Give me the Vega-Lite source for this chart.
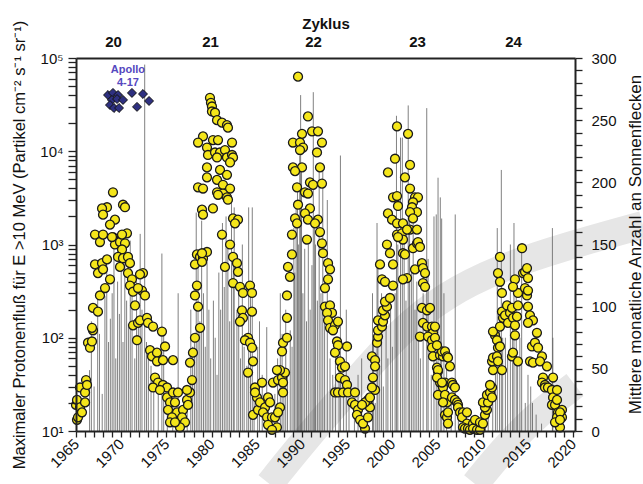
{
  "$schema": "https://vega.github.io/schema/vega-lite/v6.json",
  "width": 499,
  "height": 373,
  "autosize": {"type": "none"},
  "padding": {"left": 76, "top": 58, "right": 68, "bottom": 53},
  "background": "white",
  "config": {
    "font": "Liberation Sans",
    "view": {"stroke": null},
    "axis": {"grid": false, "zindex": 1, "labelColor": "#111", "titleColor": "#111", "domainColor": "#222", "tickColor": "#222", "labelOverlap": false, "labelFlush": false, "labelBound": false}
  },
  "datasets": {
    "band": [
      {"g": "A", "t": 1986.4, "v": -42.6},
      {"g": "A", "t": 1990.3, "v": -7.2},
      {"g": "A", "t": 1995.6, "v": 37},
      {"g": "A", "t": 2000.9, "v": 81.2},
      {"g": "A", "t": 2005.82, "v": 109.4},
      {"g": "A", "t": 2011.9, "v": 131.1},
      {"g": "A", "t": 2018.54, "v": 147.2},
      {"g": "A", "t": 2027.72, "v": 165.7},
      {"g": "B", "t": 2009.14, "v": -42.6},
      {"g": "B", "t": 2012.46, "v": -12.9},
      {"g": "B", "t": 2016.33, "v": 15.3},
      {"g": "B", "t": 2020.2, "v": 37}
    ],
    "flux": [
      {"t": 1966.5, "f": 45}, {"t": 1966.7, "f": 150}, {"t": 1967.0, "f": 30}, {"t": 1967.4, "f": 300}, {"t": 1967.6, "f": 110}, {"t": 1967.9, "f": 25},
      {"t": 1968.2, "f": 280}, {"t": 1968.4, "f": 700}, {"t": 1968.6, "f": 90}, {"t": 1968.8, "f": 160}, {"t": 1969.0, "f": 300}, {"t": 1969.2, "f": 1100},
      {"t": 1969.4, "f": 60}, {"t": 1969.6, "f": 400}, {"t": 1969.8, "f": 180}, {"t": 1970.0, "f": 550}, {"t": 1970.2, "f": 90}, {"t": 1970.4, "f": 1000},
      {"t": 1970.6, "f": 250}, {"t": 1970.8, "f": 140}, {"t": 1971.0, "f": 1100}, {"t": 1971.2, "f": 300}, {"t": 1971.5, "f": 60}, {"t": 1971.7, "f": 400},
      {"t": 1971.9, "f": 150}, {"t": 1972.1, "f": 1300}, {"t": 1972.3, "f": 200}, {"t": 1972.6, "f": 85000}, {"t": 1972.8, "f": 90}, {"t": 1973.0, "f": 60},
      {"t": 1973.3, "f": 50}, {"t": 1973.6, "f": 35}, {"t": 1974.1, "f": 40}, {"t": 1974.5, "f": 800}, {"t": 1974.7, "f": 120}, {"t": 1975.1, "f": 20},
      {"t": 1975.7, "f": 25}, {"t": 1976.3, "f": 300}, {"t": 1976.8, "f": 15}, {"t": 1977.3, "f": 25}, {"t": 1977.7, "f": 200}, {"t": 1977.9, "f": 80},
      {"t": 1978.1, "f": 100}, {"t": 1978.3, "f": 2200}, {"t": 1978.5, "f": 600}, {"t": 1978.7, "f": 150}, {"t": 1978.9, "f": 1800}, {"t": 1979.1, "f": 300},
      {"t": 1979.3, "f": 80}, {"t": 1979.5, "f": 900}, {"t": 1979.7, "f": 200}, {"t": 1979.9, "f": 60}, {"t": 1980.2, "f": 250}, {"t": 1980.4, "f": 100},
      {"t": 1980.6, "f": 40}, {"t": 1980.8, "f": 500}, {"t": 1981.0, "f": 200}, {"t": 1981.2, "f": 1700}, {"t": 1981.4, "f": 350}, {"t": 1981.6, "f": 2000},
      {"t": 1981.8, "f": 1000}, {"t": 1982.0, "f": 150}, {"t": 1982.2, "f": 3000}, {"t": 1982.4, "f": 800}, {"t": 1982.5, "f": 2500}, {"t": 1982.8, "f": 200},
      {"t": 1983.0, "f": 300}, {"t": 1983.2, "f": 60}, {"t": 1983.4, "f": 1000}, {"t": 1983.6, "f": 80}, {"t": 1983.9, "f": 50}, {"t": 1984.1, "f": 2500},
      {"t": 1984.3, "f": 300}, {"t": 1984.5, "f": 2500}, {"t": 1984.7, "f": 30}, {"t": 1985.1, "f": 80}, {"t": 1985.3, "f": 150}, {"t": 1985.6, "f": 40},
      {"t": 1986.1, "f": 130}, {"t": 1986.3, "f": 20}, {"t": 1986.6, "f": 15}, {"t": 1987.0, "f": 25}, {"t": 1987.3, "f": 60}, {"t": 1987.6, "f": 300},
      {"t": 1987.8, "f": 110}, {"t": 1988.0, "f": 30}, {"t": 1988.2, "f": 200}, {"t": 1988.4, "f": 40}, {"t": 1988.7, "f": 120}, {"t": 1988.9, "f": 80},
      {"t": 1989.1, "f": 1500}, {"t": 1989.2, "f": 500}, {"t": 1989.35, "f": 3000}, {"t": 1989.5, "f": 4000}, {"t": 1989.6, "f": 1000}, {"t": 1989.75, "f": 9000},
      {"t": 1989.85, "f": 40000}, {"t": 1989.95, "f": 7000}, {"t": 1990.1, "f": 300}, {"t": 1990.3, "f": 900}, {"t": 1990.5, "f": 150}, {"t": 1990.7, "f": 1000},
      {"t": 1990.9, "f": 200}, {"t": 1991.1, "f": 600}, {"t": 1991.25, "f": 43000}, {"t": 1991.4, "f": 2000}, {"t": 1991.5, "f": 1000}, {"t": 1991.7, "f": 250},
      {"t": 1991.9, "f": 6000}, {"t": 1992.1, "f": 300}, {"t": 1992.3, "f": 7000}, {"t": 1992.5, "f": 150}, {"t": 1992.8, "f": 3000}, {"t": 1993.1, "f": 60},
      {"t": 1993.4, "f": 40}, {"t": 1993.7, "f": 90}, {"t": 1994.1, "f": 60}, {"t": 1994.25, "f": 9000}, {"t": 1994.6, "f": 30}, {"t": 1994.9, "f": 200},
      {"t": 1995.2, "f": 20}, {"t": 1995.8, "f": 15}, {"t": 1996.2, "f": 40}, {"t": 1996.6, "f": 60}, {"t": 1997.2, "f": 15}, {"t": 1997.8, "f": 300},
      {"t": 1997.9, "f": 100}, {"t": 1998.1, "f": 20}, {"t": 1998.3, "f": 1700}, {"t": 1998.4, "f": 600}, {"t": 1998.6, "f": 50}, {"t": 1998.8, "f": 300},
      {"t": 1999.0, "f": 30}, {"t": 1999.3, "f": 150}, {"t": 1999.5, "f": 60}, {"t": 1999.8, "f": 200}, {"t": 2000.0, "f": 80}, {"t": 2000.3, "f": 300},
      {"t": 2000.45, "f": 24000}, {"t": 2000.6, "f": 1000}, {"t": 2000.9, "f": 14000}, {"t": 2001.1, "f": 14000}, {"t": 2001.3, "f": 1500}, {"t": 2001.5, "f": 250},
      {"t": 2001.75, "f": 31000}, {"t": 2001.9, "f": 3000}, {"t": 2002.1, "f": 500}, {"t": 2002.3, "f": 2500}, {"t": 2002.5, "f": 200}, {"t": 2002.7, "f": 400},
      {"t": 2002.9, "f": 100}, {"t": 2003.1, "f": 60}, {"t": 2003.4, "f": 300}, {"t": 2003.8, "f": 29000}, {"t": 2003.95, "f": 700}, {"t": 2004.3, "f": 40},
      {"t": 2004.6, "f": 2000}, {"t": 2004.85, "f": 2100}, {"t": 2005.05, "f": 5200}, {"t": 2005.3, "f": 3200}, {"t": 2005.45, "f": 1900}, {"t": 2005.7, "f": 300},
      {"t": 2006.0, "f": 50}, {"t": 2006.5, "f": 20}, {"t": 2006.95, "f": 2100}, {"t": 2007.3, "f": 15}, {"t": 2008.0, "f": 12}, {"t": 2010.3, "f": 20},
      {"t": 2010.6, "f": 14}, {"t": 2011.1, "f": 30}, {"t": 2011.4, "f": 80}, {"t": 2011.6, "f": 1500}, {"t": 2011.85, "f": 200}, {"t": 2012.05, "f": 6300},
      {"t": 2012.2, "f": 100}, {"t": 2012.5, "f": 100}, {"t": 2012.75, "f": 60}, {"t": 2013.05, "f": 1000}, {"t": 2013.3, "f": 160}, {"t": 2013.45, "f": 1700},
      {"t": 2013.7, "f": 300}, {"t": 2013.85, "f": 50}, {"t": 2014.1, "f": 100}, {"t": 2014.3, "f": 1000}, {"t": 2014.7, "f": 20}, {"t": 2015.0, "f": 40},
      {"t": 2015.3, "f": 30}, {"t": 2015.5, "f": 20}, {"t": 2015.9, "f": 15}, {"t": 2016.5, "f": 12}, {"t": 2017.7, "f": 1500}, {"t": 2017.75, "f": 100},
      {"t": 2018.2, "f": 12}
    ],
    "ssn": [
      {"t": 1965.0, "s": 21}, {"t": 1965.11, "s": 25}, {"t": 1965.11, "s": 9}, {"t": 1965.22, "s": 11}, {"t": 1965.44, "s": 35}, {"t": 1965.44, "s": 19},
      {"t": 1965.66, "s": 15}, {"t": 1966.0, "s": 31}, {"t": 1966.0, "s": 23}, {"t": 1966.11, "s": 41}, {"t": 1966.22, "s": 37}, {"t": 1966.33, "s": 71},
      {"t": 1966.55, "s": 67}, {"t": 1966.77, "s": 72}, {"t": 1966.88, "s": 81}, {"t": 1966.77, "s": 83}, {"t": 1966.88, "s": 99}, {"t": 1967.43, "s": 96},
      {"t": 1967.1, "s": 134}, {"t": 1967.43, "s": 127}, {"t": 1967.88, "s": 135}, {"t": 1967.99, "s": 130}, {"t": 1967.65, "s": 109}, {"t": 1968.21, "s": 115},
      {"t": 1968.76, "s": 122}, {"t": 1968.43, "s": 138}, {"t": 1967.1, "s": 158}, {"t": 1967.65, "s": 152}, {"t": 1967.99, "s": 158}, {"t": 1969.09, "s": 156},
      {"t": 1969.31, "s": 150}, {"t": 1969.87, "s": 152}, {"t": 1970.64, "s": 159}, {"t": 1970.42, "s": 151}, {"t": 1970.09, "s": 146}, {"t": 1969.65, "s": 140},
      {"t": 1970.2, "s": 139}, {"t": 1970.75, "s": 140}, {"t": 1969.87, "s": 132}, {"t": 1970.97, "s": 135}, {"t": 1970.75, "s": 127}, {"t": 1971.19, "s": 122},
      {"t": 1970.97, "s": 117}, {"t": 1971.31, "s": 112}, {"t": 1971.53, "s": 101}, {"t": 1971.31, "s": 85}, {"t": 1971.86, "s": 87}, {"t": 1972.08, "s": 89},
      {"t": 1972.85, "s": 91}, {"t": 1972.96, "s": 87}, {"t": 1972.41, "s": 127}, {"t": 1972.08, "s": 126}, {"t": 1972.3, "s": 113}, {"t": 1972.63, "s": 109},
      {"t": 1971.86, "s": 115}, {"t": 1971.75, "s": 73}, {"t": 1973.52, "s": 84}, {"t": 1974.51, "s": 80}, {"t": 1973.19, "s": 65}, {"t": 1973.41, "s": 60},
      {"t": 1973.96, "s": 63}, {"t": 1973.96, "s": 56}, {"t": 1974.85, "s": 68}, {"t": 1974.62, "s": 57}, {"t": 1975.73, "s": 57}, {"t": 1973.74, "s": 43},
      {"t": 1974.07, "s": 39}, {"t": 1973.52, "s": 35}, {"t": 1974.62, "s": 37}, {"t": 1975.07, "s": 35}, {"t": 1974.29, "s": 33}, {"t": 1975.07, "s": 27},
      {"t": 1975.73, "s": 31}, {"t": 1975.4, "s": 23}, {"t": 1975.95, "s": 23}, {"t": 1976.28, "s": 31}, {"t": 1975.18, "s": 17}, {"t": 1976.17, "s": 15},
      {"t": 1976.84, "s": 17}, {"t": 1975.62, "s": 11}, {"t": 1975.4, "s": 7}, {"t": 1976.73, "s": 11}, {"t": 1977.28, "s": 25}, {"t": 1977.61, "s": 31},
      {"t": 1977.28, "s": 33}, {"t": 1977.06, "s": 7}, {"t": 1976.5, "s": 3}, {"t": 1977.39, "s": 21}, {"t": 1975.95, "s": 7}, {"t": 1969.09, "s": 192},
      {"t": 1968.43, "s": 180}, {"t": 1967.88, "s": 179}, {"t": 1967.99, "s": 174}, {"t": 1969.31, "s": 170}, {"t": 1968.76, "s": 166}, {"t": 1970.2, "s": 182},
      {"t": 1970.42, "s": 180}, {"t": 1968.98, "s": 156}, {"t": 1970.09, "s": 158},
      {"t": 1977.83, "s": 41}, {"t": 1977.61, "s": 55}, {"t": 1977.94, "s": 63}, {"t": 1978.16, "s": 75}, {"t": 1978.72, "s": 83}, {"t": 1978.5, "s": 100},
      {"t": 1978.16, "s": 109}, {"t": 1978.38, "s": 117}, {"t": 1978.16, "s": 134}, {"t": 1978.38, "s": 142}, {"t": 1978.72, "s": 140}, {"t": 1979.05, "s": 139},
      {"t": 1978.94, "s": 136}, {"t": 1979.49, "s": 144}, {"t": 1978.94, "s": 143}, {"t": 1979.82, "s": 268}, {"t": 1979.93, "s": 264}, {"t": 1980.04, "s": 261},
      {"t": 1980.04, "s": 257}, {"t": 1980.38, "s": 256}, {"t": 1980.6, "s": 250}, {"t": 1981.15, "s": 248}, {"t": 1981.7, "s": 246}, {"t": 1981.81, "s": 244},
      {"t": 1979.05, "s": 237}, {"t": 1978.5, "s": 232}, {"t": 1979.49, "s": 228}, {"t": 1980.15, "s": 234}, {"t": 1980.71, "s": 234}, {"t": 1982.26, "s": 232},
      {"t": 1979.6, "s": 222}, {"t": 1980.38, "s": 224}, {"t": 1980.93, "s": 224}, {"t": 1981.48, "s": 226}, {"t": 1980.6, "s": 220}, {"t": 1981.7, "s": 220},
      {"t": 1982.26, "s": 222}, {"t": 1982.37, "s": 220}, {"t": 1982.04, "s": 216}, {"t": 1979.49, "s": 212}, {"t": 1980.93, "s": 210}, {"t": 1981.7, "s": 206},
      {"t": 1979.49, "s": 204}, {"t": 1980.6, "s": 202}, {"t": 1978.5, "s": 196}, {"t": 1979.05, "s": 195}, {"t": 1981.26, "s": 198}, {"t": 1982.04, "s": 195},
      {"t": 1980.6, "s": 192}, {"t": 1981.26, "s": 191}, {"t": 1980.71, "s": 190}, {"t": 1981.7, "s": 188}, {"t": 1981.81, "s": 186}, {"t": 1978.94, "s": 178},
      {"t": 1979.05, "s": 174}, {"t": 1980.15, "s": 179}, {"t": 1982.37, "s": 171}, {"t": 1982.92, "s": 170}, {"t": 1982.59, "s": 167}, {"t": 1981.15, "s": 158},
      {"t": 1981.48, "s": 132}, {"t": 1982.04, "s": 150}, {"t": 1982.37, "s": 140}, {"t": 1982.81, "s": 135}, {"t": 1982.92, "s": 128}, {"t": 1982.37, "s": 119},
      {"t": 1983.14, "s": 116}, {"t": 1983.47, "s": 111}, {"t": 1983.36, "s": 97}, {"t": 1983.47, "s": 91}, {"t": 1983.14, "s": 88}, {"t": 1984.47, "s": 96},
      {"t": 1984.25, "s": 117}, {"t": 1984.47, "s": 111}, {"t": 1984.03, "s": 75}, {"t": 1983.69, "s": 73}, {"t": 1984.25, "s": 71}, {"t": 1984.58, "s": 56},
      {"t": 1984.03, "s": 47}, {"t": 1984.8, "s": 35}, {"t": 1984.58, "s": 13}, {"t": 1985.02, "s": 27}, {"t": 1985.13, "s": 17}, {"t": 1984.47, "s": 67},
      {"t": 1984.8, "s": 31}, {"t": 1985.58, "s": 39}, {"t": 1985.35, "s": 23}, {"t": 1986.24, "s": 27}, {"t": 1985.91, "s": 19}, {"t": 1986.46, "s": 23},
      {"t": 1985.69, "s": 15}, {"t": 1986.13, "s": 11}, {"t": 1986.68, "s": 11}, {"t": 1986.24, "s": 5}, {"t": 1987.01, "s": 11}, {"t": 1987.23, "s": 3},
      {"t": 1986.68, "s": 1}, {"t": 1987.57, "s": 19}, {"t": 1987.35, "s": 15},
      {"t": 1986.79, "s": 39}, {"t": 1987.35, "s": 41}, {"t": 1987.79, "s": 43}, {"t": 1987.9, "s": 39}, {"t": 1988.12, "s": 47}, {"t": 1987.57, "s": 49},
      {"t": 1987.23, "s": 49}, {"t": 1987.9, "s": 31}, {"t": 1987.79, "s": 64}, {"t": 1987.9, "s": 71}, {"t": 1988.34, "s": 75}, {"t": 1988.34, "s": 91},
      {"t": 1988.34, "s": 109}, {"t": 1988.67, "s": 124}, {"t": 1988.45, "s": 132}, {"t": 1988.89, "s": 142}, {"t": 1988.89, "s": 158}, {"t": 1990.55, "s": 154},
      {"t": 1989.56, "s": 285}, {"t": 1990.66, "s": 253}, {"t": 1990.0, "s": 239}, {"t": 1991.11, "s": 241}, {"t": 1991.77, "s": 241}, {"t": 1989.0, "s": 232},
      {"t": 1989.78, "s": 232}, {"t": 1990.11, "s": 228}, {"t": 1989.78, "s": 226}, {"t": 1992.21, "s": 232}, {"t": 1991.66, "s": 224}, {"t": 1991.99, "s": 212},
      {"t": 1989.0, "s": 212}, {"t": 1990.0, "s": 212}, {"t": 1989.23, "s": 209}, {"t": 1989.45, "s": 196}, {"t": 1990.88, "s": 200}, {"t": 1991.22, "s": 198},
      {"t": 1992.21, "s": 199}, {"t": 1990.33, "s": 192}, {"t": 1990.66, "s": 191}, {"t": 1989.56, "s": 182}, {"t": 1990.88, "s": 179}, {"t": 1990.33, "s": 175},
      {"t": 1989.23, "s": 171}, {"t": 1989.45, "s": 167}, {"t": 1990.66, "s": 170}, {"t": 1991.77, "s": 170}, {"t": 1991.44, "s": 167}, {"t": 1991.99, "s": 160},
      {"t": 1992.21, "s": 151}, {"t": 1992.32, "s": 143}, {"t": 1992.88, "s": 135}, {"t": 1993.1, "s": 130}, {"t": 1992.88, "s": 122}, {"t": 1992.54, "s": 115},
      {"t": 1992.54, "s": 100}, {"t": 1993.1, "s": 101}, {"t": 1993.32, "s": 95}, {"t": 1992.77, "s": 95}, {"t": 1992.88, "s": 89}, {"t": 1993.1, "s": 83},
      {"t": 1993.65, "s": 85}, {"t": 1993.98, "s": 88}, {"t": 1993.43, "s": 81}, {"t": 1993.87, "s": 72}, {"t": 1993.98, "s": 69}, {"t": 1994.98, "s": 68},
      {"t": 1993.65, "s": 63}, {"t": 1994.2, "s": 56}, {"t": 1994.42, "s": 51}, {"t": 1994.76, "s": 52}, {"t": 1994.2, "s": 43}, {"t": 1994.76, "s": 41},
      {"t": 1994.98, "s": 37}, {"t": 1993.65, "s": 31}, {"t": 1993.98, "s": 31}, {"t": 1994.54, "s": 31}, {"t": 1995.09, "s": 31}, {"t": 1995.86, "s": 31},
      {"t": 1995.53, "s": 23}, {"t": 1995.86, "s": 21}, {"t": 1996.19, "s": 17}, {"t": 1996.08, "s": 13}, {"t": 1996.42, "s": 9}, {"t": 1996.97, "s": 2},
      {"t": 1996.75, "s": 6}, {"t": 1997.3, "s": 11}, {"t": 1997.52, "s": 19}, {"t": 1997.3, "s": 25}, {"t": 1996.97, "s": 23}, {"t": 1996.64, "s": 21},
      {"t": 1997.52, "s": 27},
      {"t": 1997.74, "s": 60}, {"t": 1998.08, "s": 57}, {"t": 1998.08, "s": 52}, {"t": 1997.85, "s": 43}, {"t": 1998.08, "s": 33}, {"t": 1997.74, "s": 35},
      {"t": 1998.3, "s": 71}, {"t": 1998.41, "s": 76}, {"t": 1998.41, "s": 81}, {"t": 1998.85, "s": 84}, {"t": 1998.41, "s": 89}, {"t": 1998.96, "s": 88},
      {"t": 1999.18, "s": 93}, {"t": 1998.96, "s": 97}, {"t": 1999.4, "s": 100}, {"t": 1999.18, "s": 104}, {"t": 1999.73, "s": 107}, {"t": 1998.85, "s": 122},
      {"t": 1998.63, "s": 134}, {"t": 1999.18, "s": 120}, {"t": 2000.07, "s": 117}, {"t": 2000.07, "s": 134}, {"t": 1999.4, "s": 150}, {"t": 1999.73, "s": 143},
      {"t": 2000.51, "s": 158}, {"t": 2001.06, "s": 159}, {"t": 2001.17, "s": 154}, {"t": 2001.17, "s": 143}, {"t": 2001.39, "s": 142}, {"t": 2001.62, "s": 123},
      {"t": 2001.17, "s": 122}, {"t": 2001.95, "s": 162}, {"t": 2002.28, "s": 147}, {"t": 2002.72, "s": 151}, {"t": 2002.83, "s": 152}, {"t": 2003.05, "s": 148},
      {"t": 2002.5, "s": 130}, {"t": 2003.27, "s": 135}, {"t": 2003.38, "s": 131}, {"t": 2003.61, "s": 127}, {"t": 2003.38, "s": 119}, {"t": 2003.61, "s": 116},
      {"t": 2003.27, "s": 99}, {"t": 2003.83, "s": 97}, {"t": 2003.38, "s": 87}, {"t": 2003.05, "s": 76}, {"t": 2003.83, "s": 84}, {"t": 2004.38, "s": 84},
      {"t": 2004.49, "s": 79}, {"t": 2003.94, "s": 76}, {"t": 2004.38, "s": 73}, {"t": 2004.71, "s": 75}, {"t": 2004.38, "s": 67}, {"t": 2004.49, "s": 60},
      {"t": 2005.27, "s": 61}, {"t": 2005.6, "s": 60}, {"t": 2005.49, "s": 64}, {"t": 2004.93, "s": 51}, {"t": 2005.04, "s": 48}, {"t": 2005.27, "s": 39},
      {"t": 2005.82, "s": 39}, {"t": 2005.04, "s": 29}, {"t": 2005.6, "s": 35}, {"t": 2006.04, "s": 23}, {"t": 2005.82, "s": 13}, {"t": 2006.04, "s": 11},
      {"t": 2000.51, "s": 245}, {"t": 2001.73, "s": 239}, {"t": 2000.29, "s": 219}, {"t": 1999.51, "s": 208}, {"t": 2001.95, "s": 214}, {"t": 2001.39, "s": 204},
      {"t": 2001.95, "s": 195}, {"t": 2000.07, "s": 188}, {"t": 2000.51, "s": 189}, {"t": 2002.5, "s": 188}, {"t": 2002.83, "s": 188}, {"t": 2002.28, "s": 184},
      {"t": 2002.17, "s": 180}, {"t": 2000.62, "s": 181}, {"t": 2002.72, "s": 176}, {"t": 2001.95, "s": 176}, {"t": 1999.51, "s": 175}, {"t": 1999.96, "s": 170},
      {"t": 2000.51, "s": 167}, {"t": 2001.17, "s": 167}, {"t": 2002.28, "s": 171}, {"t": 2001.62, "s": 162}, {"t": 2002.72, "s": 162}, {"t": 2000.62, "s": 156},
      {"t": 2004.16, "s": 99}, {"t": 2004.71, "s": 84}, {"t": 2004.93, "s": 69}, {"t": 2005.04, "s": 49}, {"t": 2004.93, "s": 43}, {"t": 2005.49, "s": 39},
      {"t": 2005.82, "s": 29}, {"t": 2005.6, "s": 23}, {"t": 2006.15, "s": 15}, {"t": 2006.15, "s": 6}, {"t": 2005.82, "s": 64}, {"t": 2006.04, "s": 60},
      {"t": 2006.15, "s": 59}, {"t": 2006.37, "s": 52}, {"t": 2006.59, "s": 39}, {"t": 2006.7, "s": 37}, {"t": 2006.92, "s": 35}, {"t": 2006.59, "s": 27},
      {"t": 2006.92, "s": 25}, {"t": 2007.15, "s": 23}, {"t": 2007.26, "s": 21}, {"t": 2007.26, "s": 19}, {"t": 2007.48, "s": 15}, {"t": 2007.81, "s": 15},
      {"t": 2007.7, "s": 11}, {"t": 2008.25, "s": 15}, {"t": 2008.25, "s": 6}, {"t": 2007.81, "s": 3}, {"t": 2008.03, "s": 2}, {"t": 2008.36, "s": 2},
      {"t": 2008.58, "s": 1}, {"t": 2008.92, "s": 6}, {"t": 2008.92, "s": 2}, {"t": 2009.36, "s": 1}, {"t": 2009.69, "s": 1}, {"t": 2009.14, "s": 9},
      {"t": 2009.69, "s": 7}, {"t": 2010.02, "s": 6},
      {"t": 2010.24, "s": 13}, {"t": 2010.46, "s": 17}, {"t": 2010.24, "s": 19}, {"t": 2010.02, "s": 23}, {"t": 2010.58, "s": 23}, {"t": 2010.46, "s": 29},
      {"t": 2010.8, "s": 31}, {"t": 2011.02, "s": 35}, {"t": 2011.02, "s": 27}, {"t": 2010.8, "s": 37}, {"t": 2011.13, "s": 49}, {"t": 2011.02, "s": 56},
      {"t": 2011.13, "s": 59}, {"t": 2011.35, "s": 77}, {"t": 2011.13, "s": 80}, {"t": 2011.57, "s": 73}, {"t": 2011.68, "s": 67}, {"t": 2011.57, "s": 60},
      {"t": 2011.68, "s": 56}, {"t": 2011.9, "s": 68}, {"t": 2012.12, "s": 49}, {"t": 2011.9, "s": 84}, {"t": 2011.68, "s": 127}, {"t": 2011.9, "s": 140},
      {"t": 2011.9, "s": 120}, {"t": 2012.12, "s": 111}, {"t": 2012.12, "s": 96}, {"t": 2012.23, "s": 91}, {"t": 2012.46, "s": 93}, {"t": 2012.68, "s": 101},
      {"t": 2012.79, "s": 87}, {"t": 2013.01, "s": 95}, {"t": 2013.23, "s": 99}, {"t": 2013.34, "s": 91}, {"t": 2013.56, "s": 85}, {"t": 2013.56, "s": 77},
      {"t": 2013.23, "s": 60}, {"t": 2013.34, "s": 63}, {"t": 2013.89, "s": 56}, {"t": 2013.78, "s": 92}, {"t": 2013.89, "s": 101}, {"t": 2013.89, "s": 111},
      {"t": 2013.56, "s": 122}, {"t": 2013.34, "s": 116}, {"t": 2014.34, "s": 147}, {"t": 2014.45, "s": 127}, {"t": 2014.67, "s": 128}, {"t": 2014.89, "s": 131},
      {"t": 2015.0, "s": 123}, {"t": 2014.67, "s": 115}, {"t": 2014.89, "s": 109}, {"t": 2015.0, "s": 100}, {"t": 2015.22, "s": 93}, {"t": 2015.0, "s": 113},
      {"t": 2015.22, "s": 56}, {"t": 2015.55, "s": 55}, {"t": 2015.44, "s": 68}, {"t": 2015.77, "s": 71}, {"t": 2015.99, "s": 79}, {"t": 2015.55, "s": 89},
      {"t": 2015.0, "s": 87}, {"t": 2016.11, "s": 67}, {"t": 2016.55, "s": 60}, {"t": 2016.33, "s": 56}, {"t": 2016.66, "s": 43}, {"t": 2016.55, "s": 39},
      {"t": 2016.88, "s": 37}, {"t": 2016.88, "s": 35}, {"t": 2017.21, "s": 35}, {"t": 2017.1, "s": 52}, {"t": 2017.65, "s": 33}, {"t": 2017.77, "s": 27},
      {"t": 2017.65, "s": 21}, {"t": 2017.99, "s": 21}, {"t": 2018.21, "s": 25}, {"t": 2018.21, "s": 33}, {"t": 2018.32, "s": 15}, {"t": 2018.54, "s": 11},
      {"t": 2018.21, "s": 11}, {"t": 2018.76, "s": 11}, {"t": 2018.32, "s": 7}, {"t": 2018.54, "s": 3}, {"t": 2018.76, "s": 17}, {"t": 2017.77, "s": 43},
      {"t": 2018.54, "s": 15}, {"t": 2017.99, "s": 7}, {"t": 2018.54, "s": 9}
    ],
    "apollo": [
      {"t": 1968.54, "f": 40100}, {"t": 1969.09, "f": 42200}, {"t": 1969.65, "f": 40100}, {"t": 1968.98, "f": 35500}, {"t": 1969.54, "f": 36300},
      {"t": 1970.2, "f": 35500}, {"t": 1968.76, "f": 31300}, {"t": 1969.2, "f": 29100}, {"t": 1969.76, "f": 29100}, {"t": 1971.19, "f": 42200},
      {"t": 1971.75, "f": 29900}, {"t": 1972.41, "f": 41100}, {"t": 1973.08, "f": 34600}
    ],
    "label": [{"t": 1970.75, "f": 86000, "txt": "Apollo\n4-17"}]
  },
  "resolve": {"scale": {"y": "independent"}, "axis": {"x": "independent", "y": "independent"}},
  "layer": [
    {
      "data": {"name": "band"},
      "mark": {"type": "line", "clip": false, "strokeWidth": 28, "color": "#e6e6e6", "interpolate": "basis", "strokeCap": "butt"},
      "encoding": {
        "x": {"field": "t", "type": "quantitative", "scale": {"domain": [1965, 2020.2], "nice": false, "zero": false},
          "axis": {"orient": "top", "zindex": 1, "values": [1969.09, 1979.82, 1991.22, 2002.72, 2013.34],
            "labelExpr": "datum.value < 1975 ? '20' : datum.value < 1985 ? '21' : datum.value < 1997 ? '22' : datum.value < 2008 ? '23' : '24'",
            "ticks": false, "domainWidth": 2, "labelFontSize": 15, "labelFontWeight": "bold", "labelPadding": 9,
            "title": "Zyklus", "titleFontSize": 15, "titleFontWeight": "bold", "titlePadding": 3}},
        "y": {"field": "v", "type": "quantitative", "scale": {"domain": [0, 300], "nice": false, "zero": false}, "axis": null},
        "detail": {"field": "g"}
      }
    },
    {
      "data": {"name": "flux"},
      "mark": {"type": "rule", "color": "#555", "strokeWidth": 1, "opacity": 0.75},
      "encoding": {
        "x": {"field": "t", "type": "quantitative", "scale": {"domain": [1965, 2020.2], "nice": false, "zero": false},
          "axis": {"orient": "bottom", "zindex": 1, "values": [1965,1966,1967,1968,1969,1970,1971,1972,1973,1974,1975,1976,1977,1978,1979,1980,1981,1982,1983,1984,1985,1986,1987,1988,1989,1990,1991,1992,1993,1994,1995,1996,1997,1998,1999,2000,2001,2002,2003,2004,2005,2006,2007,2008,2009,2010,2011,2012,2013,2014,2015,2016,2017,2018,2019,2020],
            "labelExpr": "datum.value % 5 == 0 ? '' + datum.value : ''", "labelAngle": -45, "labelAlign": "right", "labelBaseline": "middle",
            "tickSize": 6, "tickWidth": 1.3, "domainWidth": 2, "labelFontSize": 15, "labelPadding": 4, "title": null}},
        "y": {"field": "f", "type": "quantitative", "scale": {"type": "log", "domain": [10, 100000], "nice": false},
          "axis": {"orient": "left", "zindex": 1, "values": [10,20,30,40,50,60,70,80,90,100,200,300,400,500,600,700,800,900,1000,2000,3000,4000,5000,6000,7000,8000,9000,10000,20000,30000,40000,50000,60000,70000,80000,90000,100000],
            "labelExpr": "datum.value == 10 ? '10¹' : datum.value == 100 ? '10²' : datum.value == 1000 ? '10³' : datum.value == 10000 ? '10⁴' : datum.value == 100000 ? '10⁵' : ''",
            "tickSize": 8, "tickWidth": 1.3, "domainWidth": 2, "labelFontSize": 15, "labelPadding": 5,
            "title": "Maximaler Protonenfluß für E >10 MeV (Partikel cm⁻² s⁻¹ sr⁻¹)", "titleFontSize": 16.5, "titleFontWeight": "normal", "titlePadding": 12}},
        "y2": {"datum": 10}
      }
    },
    {
      "data": {"name": "ssn"},
      "mark": {"type": "point", "shape": "circle", "filled": true, "fill": "#f5e61a", "stroke": "#1a1a1a", "strokeWidth": 1.3, "size": 80, "opacity": 1},
      "encoding": {
        "x": {"field": "t", "type": "quantitative", "scale": {"domain": [1965, 2020.2], "nice": false, "zero": false}, "axis": null},
        "y": {"field": "s", "type": "quantitative", "scale": {"domain": [0, 300], "nice": false, "zero": false},
          "axis": {"orient": "right", "zindex": 1, "values": [0,10,20,30,40,50,60,70,80,90,100,110,120,130,140,150,160,170,180,190,200,210,220,230,240,250,260,270,280,290,300],
            "labelExpr": "datum.value % 50 == 0 ? '' + datum.value : ''", "tickSize": 7, "tickWidth": 1.3, "domainWidth": 2, "labelFontSize": 15, "labelPadding": 9,
            "title": "Mittlere monatliche Anzahl an Sonnenflecken", "titleFontSize": 17, "titleFontWeight": "normal", "titleAngle": -90,
            "titleX": 65, "titleY": 186, "titleAlign": "center", "titleBaseline": "alphabetic"}}
      }
    },
    {
      "data": {"name": "apollo"},
      "mark": {"type": "point", "shape": "diamond", "filled": true, "fill": "#2e3080", "stroke": "#111", "strokeWidth": 1, "size": 80, "opacity": 1},
      "encoding": {
        "x": {"field": "t", "type": "quantitative", "scale": {"domain": [1965, 2020.2], "nice": false, "zero": false}, "axis": null},
        "y": {"field": "f", "type": "quantitative", "scale": {"type": "log", "domain": [10, 100000], "nice": false}, "axis": null}
      }
    },
    {
      "data": {"name": "label"},
      "mark": {"type": "text", "lineBreak": "\n", "fontSize": 11, "fontWeight": "bold", "color": "#5548c0", "align": "center", "baseline": "top", "lineHeight": 13},
      "encoding": {
        "x": {"field": "t", "type": "quantitative", "scale": {"domain": [1965, 2020.2], "nice": false, "zero": false}, "axis": null},
        "y": {"field": "f", "type": "quantitative", "scale": {"type": "log", "domain": [10, 100000], "nice": false}, "axis": null},
        "text": {"field": "txt"}
      }
    }
  ]
}
